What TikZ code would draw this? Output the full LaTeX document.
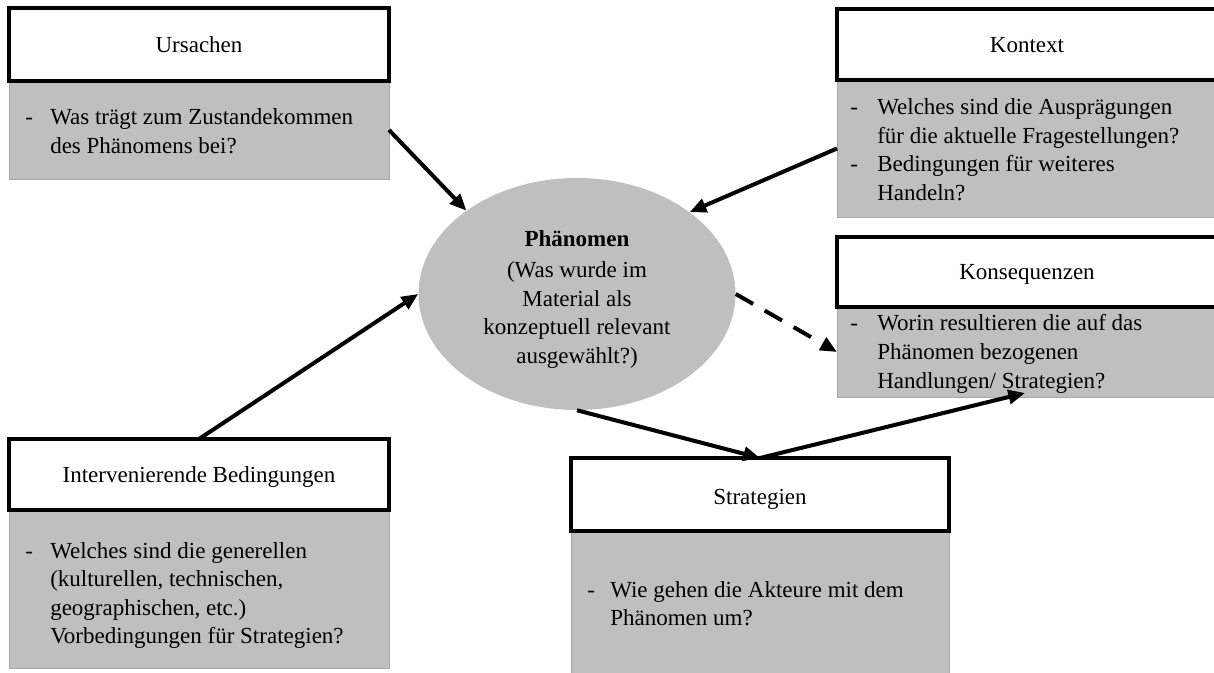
\documentclass[tikz,border=0pt]{standalone}
\usepackage{fontspec}
\setmainfont{Liberation Serif}
\usetikzlibrary{arrows.meta,shapes.geometric,calc}
\definecolor{boxgray}{HTML}{BFBFBF}
\definecolor{edgegray}{HTML}{A8A8A8}
% left-aligned block whose baseline is the first line
\newcommand\rows[1]{\begin{tabular}[t]{@{}l@{}}#1\end{tabular}}
\newcommand\crows[1]{\begin{tabular}[t]{@{}c@{}}#1\end{tabular}}

\begin{document}
\begin{tikzpicture}[x=0.75pt,y=-0.75pt,
  head/.style={draw=black, line width=2.4pt, fill=white, inner sep=0pt, outer sep=0pt,
               anchor=north west, minimum width=285pt},
  body/.style={draw=edgegray, line width=0.6pt, fill=boxgray, inner sep=0pt, outer sep=0pt,
               anchor=north west, minimum width=285pt},
  txt/.style={inner sep=0pt, anchor=base west, font=\fontsize{17.25}{21.4}\selectfont},
  title/.style={inner sep=0pt, anchor=base, font=\fontsize{17.25}{21.4}\selectfont},
  link/.style={line width=3pt, -{Triangle[length=12.5pt,width=10.5pt]}},
  dlink/.style={link, dash pattern=on 15pt off 10pt},
]
\useasboundingbox (0,0) rectangle (1214,673);

% grey question panels
\node[body, minimum height=73.5pt]  (ub) at (9,81)   {};
\node[body, minimum height=102.75pt] (kb) at (837,80) {};
\node[body, minimum height=67.5pt]  (qb) at (837,307) {};
\node[body, minimum height=118.5pt] (ib) at (9,510)  {};
\node[body, minimum height=108pt, minimum width=283.5pt] (sb) at (571,531) {};

% white title boxes
\node[head, minimum height=54.75pt] (uh) at (9,8)    {};
\node[head, minimum height=53.25pt] (kh) at (837,9)  {};
\node[head, minimum height=52.5pt]  (qh) at (837,237) {};
\node[head, minimum height=53.25pt] (ih) at (9,439)  {};
\node[head, minimum height=54.75pt, minimum width=283.5pt] (sh) at (571,458) {};

% titles
\node[title] (ut) at (199,53)  {Ursachen};
\node[title] (kt) at (1027,53) {Kontext};
\node[title] (qt) at (1027,280) {Konsequenzen};
\node[title] (it) at (199,483) {Intervenierende Bedingungen};
\node[title] (st) at (760,504) {Strategien};

% questions
\node[txt] (ud) at (25,125) {-};
\node[txt] (ux) at (50,125) {\rows{Was trägt zum Zustandekommen\\des Phänomens bei?}};

\node[txt] (kd1) at (850,115) {-};
\node[txt] (kx1) at (877,115) {\rows{Welches sind die Ausprägungen\\für die aktuelle Fragestellungen?}};
\node[txt] (kd2) at (850,172) {-};
\node[txt] (kx2) at (877,172) {\rows{Bedingungen für weiteres\\Handeln?}};

\node[txt] (qd) at (850,331) {-};
\node[txt] (qx) at (877,331) {\rows{Worin resultieren die auf das\\Phänomen bezogenen\\Handlungen/ Strategien?}};

\node[txt] (id) at (25,558) {-};
\node[txt] (ix) at (50,558) {\rows{Welches sind die generellen\\(kulturellen, technischen,\\geographischen, etc.)\\Vorbedingungen für Strategien?}};

\node[txt] (sd) at (587,597) {-};
\node[txt] (sx) at (610,597) {\rows{Wie gehen die Akteure mit dem\\Phänomen um?}};

% central phenomenon
\node[ellipse, fill=boxgray, inner sep=0pt, minimum width=237.75pt, minimum height=174pt] (ph) at (577,294) {};
\node[title] (pt) at (577,247) {\crows{\textbf{Phänomen}\\[1.8pt](Was wurde im\\Material als\\konzeptuell relevant\\ausgewählt?)}};

% connectors
\draw[link] (ub.east) -- (ph.143.9);
\draw[link] (kb.west) -- (ph.36);
\draw[link] (ih.north) -- (ph.west);
\draw[dlink] (ph.east) -- (qb.west);
\draw[link] (ph.south) -- (sh.north);
\draw[link] (sh.north) -- ($(qb.south)+(-2,-4)$);
\end{tikzpicture}
\end{document}
